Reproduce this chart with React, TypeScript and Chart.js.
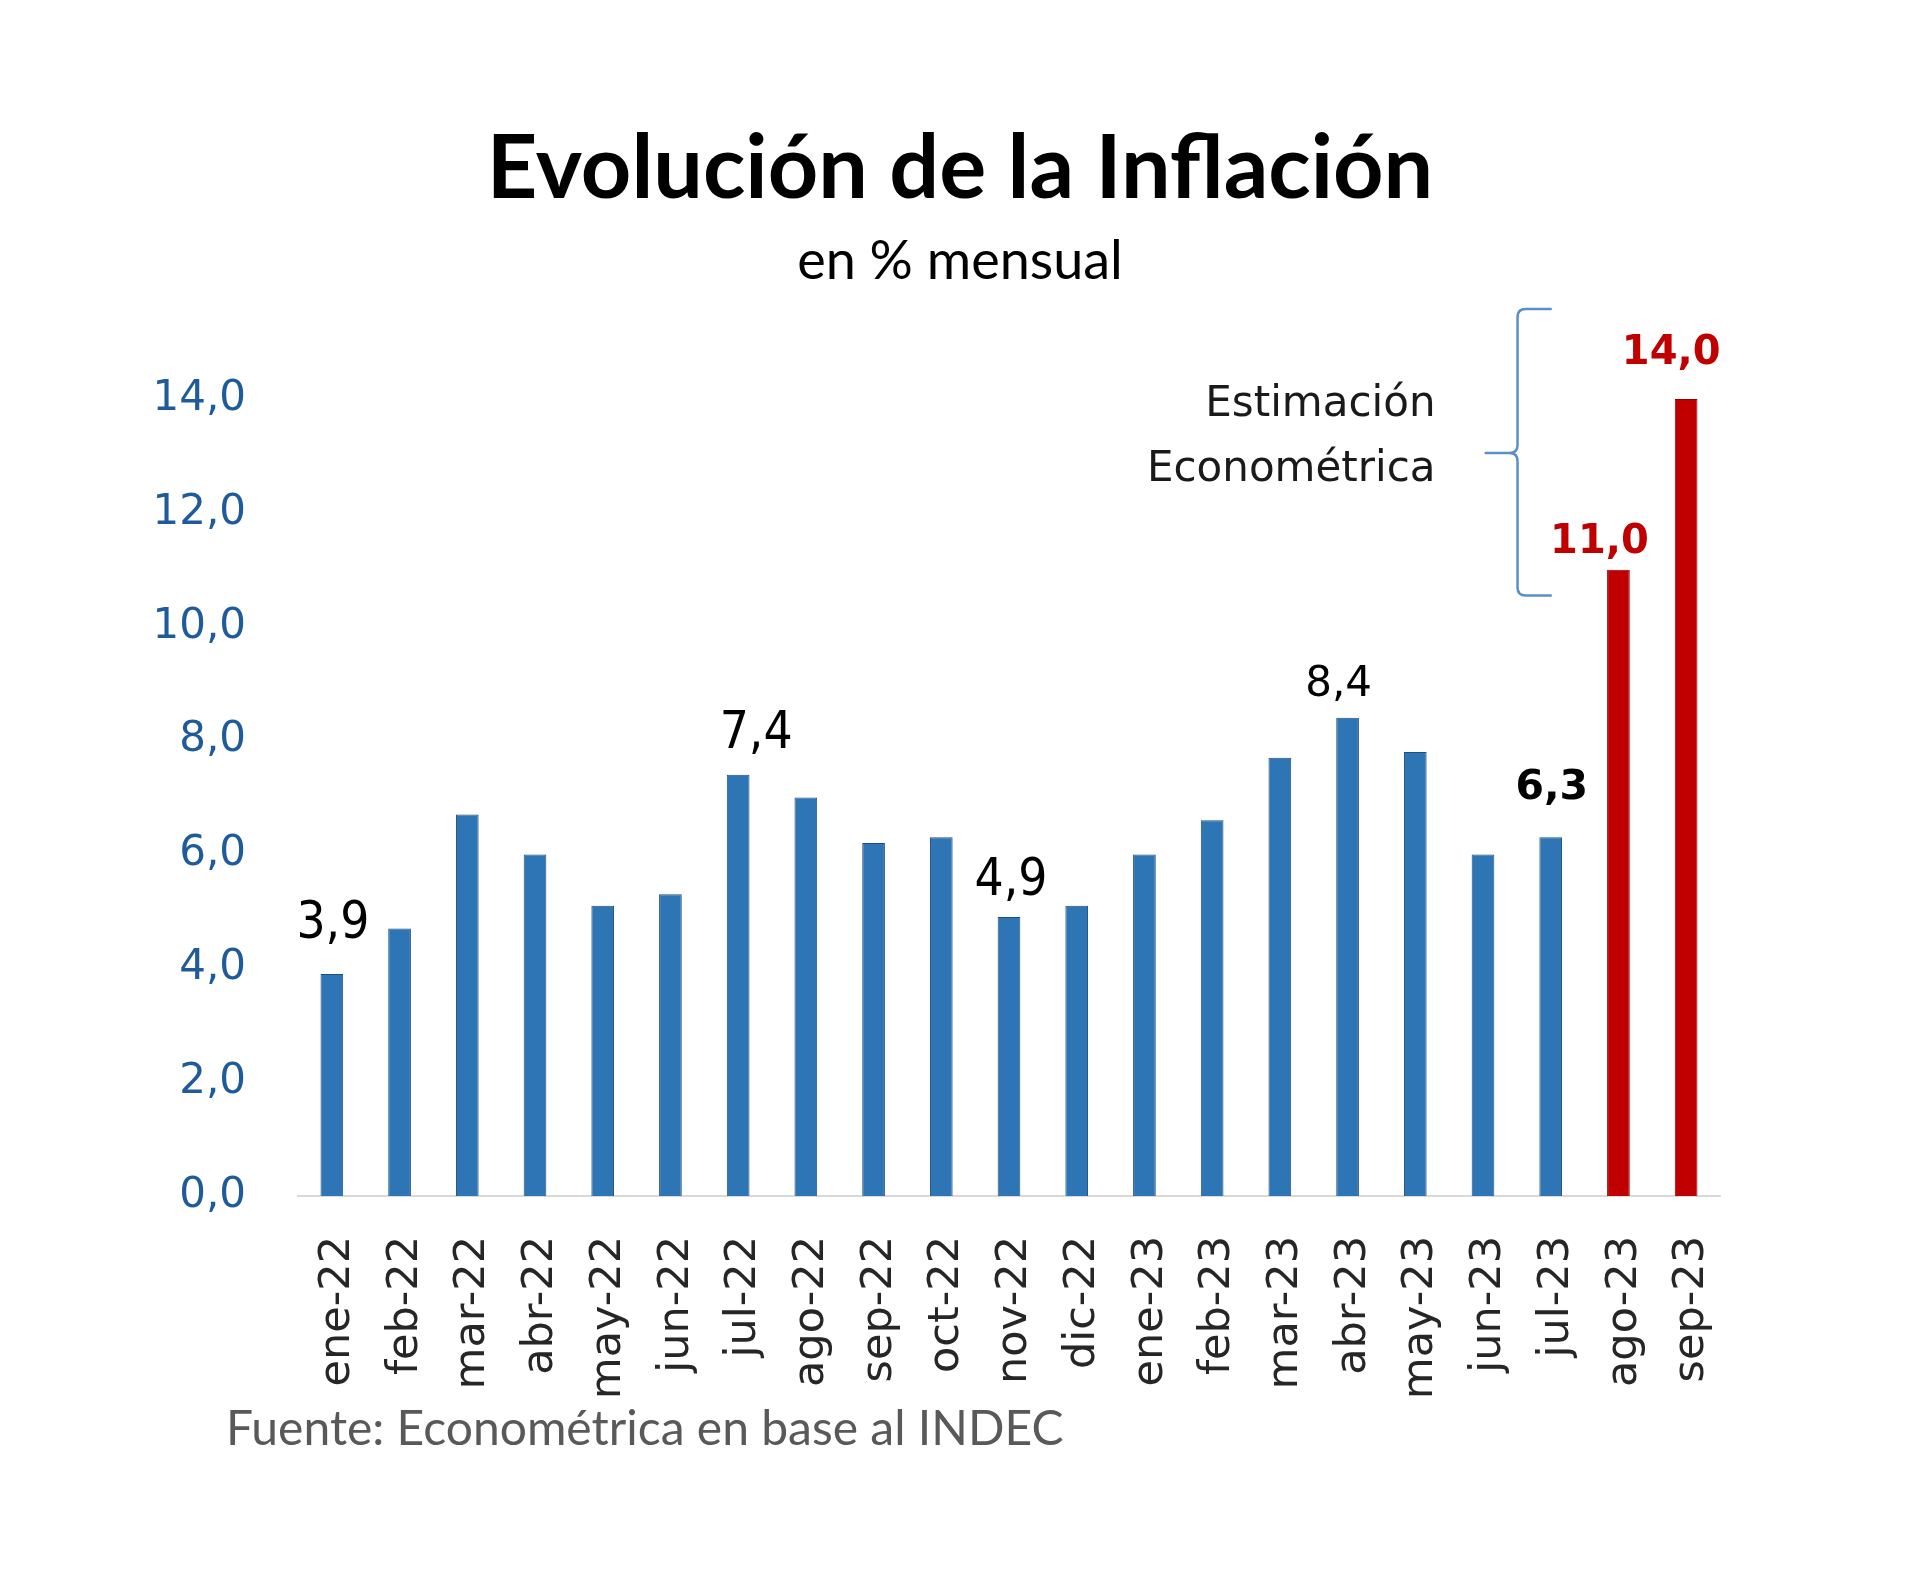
import React, { useEffect, useRef } from "react";
import { Chart, registerables } from "chart.js";

Chart.register(...registerables);

// ---- data ----
const categories = [
  "ene-22", "feb-22", "mar-22", "abr-22", "may-22", "jun-22", "jul-22",
  "ago-22", "sep-22", "oct-22", "nov-22", "dic-22", "ene-23", "feb-23",
  "mar-23", "abr-23", "may-23", "jun-23", "jul-23", "ago-23", "sep-23",
];
const inflation = [
  3.9, 4.7, 6.7, 6.0, 5.1, 5.3, 7.4, 7.0, 6.2, 6.3, 4.9, 5.1, 6.0, 6.6,
  7.7, 8.4, 7.8, 6.0, 6.3, 11.0, 14.0,
];
const estimatedMonths = ["ago-23", "sep-23"];
const yTickValues = [0, 2, 4, 6, 8, 10, 12, 14];
const labeledMonths = ["ene-22", "jul-22", "nov-22", "abr-23", "jul-23", "ago-23", "sep-23"];
const titleText = "Evolución de la Inflación";
const subtitleText = "en % mensual";
const sourceText = "Fuente: Econométrica en base al INDEC";
const noteLines = ["Estimación", "Econométrica"];
const braceRange = { top: 15.58, mid: 13.05, bottom: 10.55 };

// ---- styles ----
const BLUE = "#2E75B6";
const BLUE_EDGE = "#1F4E79";
const RED = "#C00000";
const RED_EDGE = "#8B0000";
const NARROW = '"Liberation Sans Narrow", "DejaVu Sans Condensed", Lato, sans-serif';
const WIDE = '"DejaVu Sans", Verdana, sans-serif';
const LABEL_STYLE: Record<string, { font: string; color: string; dx: number; dy: number }> = {
  "ene-22": { font: `51px ${NARROW}`, color: "#000000", dx: 1, dy: 36 },
  "jul-22": { font: `51px ${NARROW}`, color: "#000000", dx: 18, dy: 27 },
  "nov-22": { font: `51px ${NARROW}`, color: "#000000", dx: 2, dy: 22 },
  "abr-23": { font: `42px ${WIDE}`, color: "#000000", dx: -9, dy: 22 },
  "jul-23": { font: `bold 41px ${WIDE}`, color: "#000000", dx: 1, dy: 38 },
  "ago-23": { font: `bold 40px ${WIDE}`, color: RED, dx: -19, dy: 17 },
  "sep-23": { font: `bold 40px ${WIDE}`, color: RED, dx: -15, dy: 35 },
};

const fmt = (v: number) => v.toFixed(1).replace(".", ",");

const overlayPlugin = {
  id: "overlay",
  afterDatasetsDraw(chart: any) {
    const ctx: CanvasRenderingContext2D = chart.ctx;
    const meta = chart.getDatasetMeta(0);
    const xs = chart.scales.x;
    const ys = chart.scales.y;
    ctx.save();

    // value labels
    ctx.textAlign = "center";
    ctx.textBaseline = "alphabetic";
    labeledMonths.forEach((m) => {
      const i = categories.indexOf(m);
      const bar = meta.data[i];
      const st = LABEL_STYLE[m];
      ctx.font = st.font;
      ctx.fillStyle = st.color;
      ctx.fillText(fmt(inflation[i]), bar.x + st.dx, bar.y - st.dy);
    });

    // brace
    const anchorIdx = categories.indexOf(estimatedMonths[0]) - 1;
    const xa = xs.getPixelForValue(anchorIdx);
    const cw = xs.getPixelForValue(1) - xs.getPixelForValue(0);
    const xv = xa - 0.49 * cw;
    const xt = xa - 0.96 * cw;
    const yT = ys.getPixelForValue(braceRange.top);
    const yM = ys.getPixelForValue(braceRange.mid);
    const yB = ys.getPixelForValue(braceRange.bottom);
    const r = 8;
    ctx.strokeStyle = "#5B8FC9";
    ctx.lineWidth = 2.5;
    ctx.lineCap = "round";
    ctx.beginPath();
    ctx.moveTo(xa, yT);
    ctx.lineTo(xv + r, yT);
    ctx.quadraticCurveTo(xv, yT, xv, yT + r);
    ctx.lineTo(xv, yM - r);
    ctx.quadraticCurveTo(xv, yM, xv - r, yM);
    ctx.lineTo(xt, yM);
    ctx.moveTo(xv - r, yM);
    ctx.quadraticCurveTo(xv, yM, xv, yM + r);
    ctx.lineTo(xv, yB - r);
    ctx.quadraticCurveTo(xv, yB, xv + r, yB);
    ctx.lineTo(xa, yB);
    ctx.stroke();

    // note
    ctx.font = `42px ${WIDE}`;
    ctx.fillStyle = "#1A1A1A";
    ctx.textAlign = "right";
    ctx.fillText(noteLines[0], xa - 1.7 * cw, yM - 37);
    ctx.fillText(noteLines[1], xa - 1.7 * cw, yM + 28);

    // titles & source
    const W = chart.width;
    ctx.textAlign = "center";
    ctx.fillStyle = "#000000";
    ctx.font = 'bold 88px Lato, "Liberation Sans", sans-serif';
    ctx.fillText(titleText, W / 2, 198);
    ctx.font = '54px Lato, "Liberation Sans", sans-serif';
    ctx.fillText(subtitleText, W / 2, 279);
    ctx.textAlign = "left";
    ctx.fillStyle = "#595959";
    ctx.font = '48px Lato, "Liberation Sans", sans-serif';
    ctx.fillText(sourceText, 226, 1445);

    ctx.restore();
  },
};

export default function App() {
  const canvasRef = useRef<HTMLCanvasElement | null>(null);

  useEffect(() => {
    if (!canvasRef.current) return;
    const colors = categories.map((c) => (estimatedMonths.includes(c) ? RED : BLUE));
    const edges = categories.map((c) => (estimatedMonths.includes(c) ? RED_EDGE : BLUE_EDGE));
    const chart = new Chart(canvasRef.current, {
      type: "bar",
      data: {
        labels: categories,
        datasets: [
          {
            data: inflation,
            backgroundColor: colors,
            borderColor: edges,
            borderWidth: 1,
            barPercentage: 0.335,
            categoryPercentage: 1,
          },
        ],
      },
      options: {
        responsive: false,
        animation: false,
        devicePixelRatio: 1,
        layout: { padding: { top: 399, left: 0, right: 200, bottom: 0 } },
        plugins: {
          legend: { display: false },
          tooltip: { enabled: false },
          title: { display: false },
        },
        scales: {
          x: {
            grid: { display: false, drawTicks: false },
            border: { display: true, color: "#D9D9D9", width: 2 },
            ticks: {
              autoSkip: false,
              minRotation: 90,
              maxRotation: 90,
              padding: 40,
              labelOffset: 6,
              color: "#262626",
              font: { family: "DejaVu Sans", size: 43 },
            },
            afterFit: (scale: any) => {
              scale.height = 390;
            },
          },
          y: {
            min: 0,
            max: 14,
            grid: { display: false, drawTicks: false },
            border: { display: false },
            afterBuildTicks: (scale: any) => {
              scale.ticks = yTickValues.map((v) => ({ value: v }));
            },
            ticks: {
              padding: 52,
              color: "#1F5B9A",
              font: { family: "DejaVu Sans", size: 42 },
              callback: (v: any) => fmt(Number(v)),
            },
            afterFit: (scale: any) => {
              scale.width = 298;
            },
          },
        },
      },
      plugins: [overlayPlugin],
    });
    return () => chart.destroy();
  }, []);

  return (
    <div style={{ position: "fixed", left: 0, top: 0, width: 1920, height: 1586, background: "#ffffff" }}>
      <canvas ref={canvasRef} width={1920} height={1586} style={{ width: 1920, height: 1586, display: "block" }} />
    </div>
  );
}
